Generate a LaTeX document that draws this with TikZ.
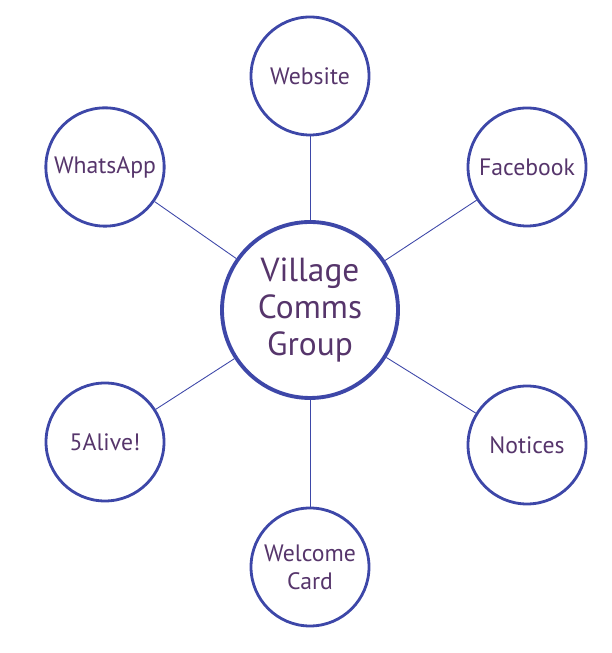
\documentclass[tikz,border=0pt]{standalone}
\usepackage{fontspec}
\setmainfont{PT Sans}
\usepackage{xcolor}
\definecolor{ring}{HTML}{3D47A8}
\definecolor{ink}{HTML}{56356B}

\begin{document}
\begin{tikzpicture}[
    hub/.style={circle,draw=ring,line width=2.2pt,minimum size=3.52cm,text=ink,font=\fontsize{19}{21}\selectfont,align=center},
    spoke/.style={circle,draw=ring,line width=1.6pt,minimum size=2.36cm,text=ink,font=\fontsize{13.5}{16}\selectfont,align=center},
    link/.style={draw=ring,line width=0.5pt}
]
            \useasboundingbox (0,0) rectangle (12.22,13.06);

            \node[hub] (group) at (6.2, 6.86) {Village\\Comms\\Group};

            \node[spoke] (web) at (6.2, 11.54) {Website};
            \node[spoke] (whats) at (2.1, 9.72) {WhatsApp};
            \node[spoke] (face) at (10.54, 9.72) {Facebook};
            \node[spoke] (alive) at (2.1, 4.22) {5Alive!};
            \node[spoke] (notice) at (10.54, 4.16) {Notices};
            \node[spoke] (card) at (6.2, 1.72) {Welcome\\Card};

            \draw[link] (group) -- (web);
            \draw[link] (group) -- (whats);
            \draw[link] (group) -- (face);
            \draw[link] (group) -- (alive);
            \draw[link] (group) -- (notice);
            \draw[link] (group) -- (card);
        \end{tikzpicture}
\end{document}
